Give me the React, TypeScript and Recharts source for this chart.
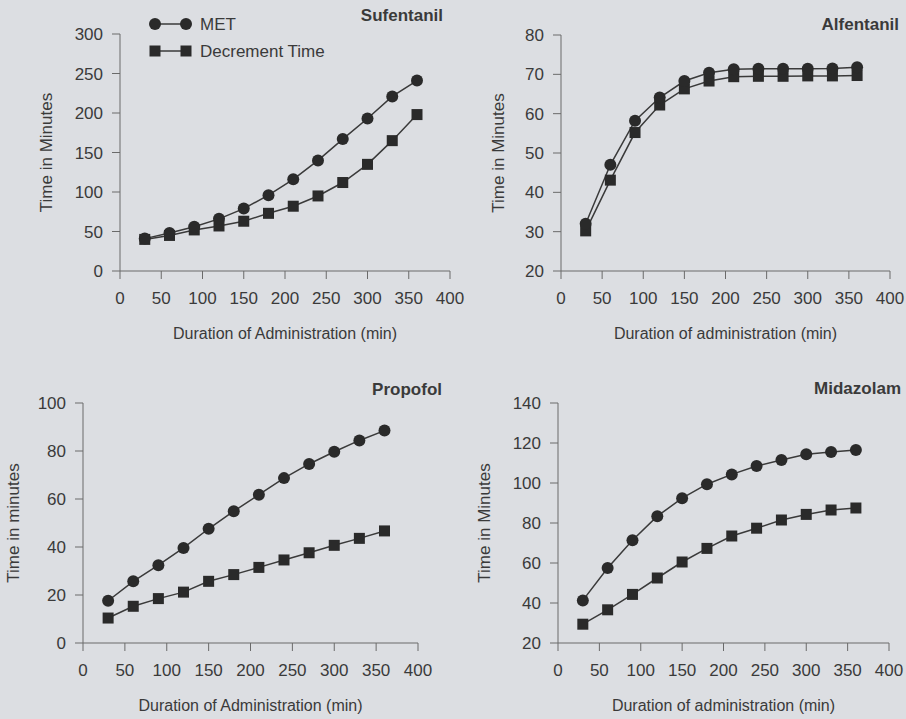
import React from 'react';
import { LineChart, Line, XAxis, YAxis } from 'recharts';

/* --- data --- */

const durations = [30, 60, 90, 120, 150, 180, 210, 240, 270, 300, 330, 360];
const xTicks = [0, 50, 100, 150, 200, 250, 300, 350, 400];

const sufentanilMet = [41, 48, 56, 66, 79, 96, 116, 140, 167, 193, 221, 241];
const sufentanilDecrement = [40, 45, 52, 57, 63, 73, 82, 95, 112, 135, 165, 198];
const sufentanilTicks = [0, 50, 100, 150, 200, 250, 300];

const alfentanilMet = [32, 47, 58.2, 64.1, 68.3, 70.4, 71.3, 71.4, 71.4, 71.4, 71.5, 71.8];
const alfentanilDecrement = [30.2, 43.1, 55.2, 62.2, 66.3, 68.3, 69.4, 69.5, 69.5, 69.6, 69.6, 69.7];
const alfentanilTicks = [20, 30, 40, 50, 60, 70, 80];

const propofolMet = [17.6, 25.7, 32.4, 39.6, 47.6, 54.9, 61.8, 68.7, 74.6, 79.7, 84.4, 88.5];
const propofolDecrement = [10.4, 15.3, 18.5, 21.2, 25.7, 28.5, 31.5, 34.6, 37.6, 40.7, 43.6, 46.7];
const propofolTicks = [0, 20, 40, 60, 80, 100];

const midazolamMet = [41.3, 57.5, 71.4, 83.4, 92.4, 99.4, 104.3, 108.5, 111.5, 114.4, 115.5, 116.5];
const midazolamDecrement = [29.4, 36.6, 44.3, 52.5, 60.5, 67.3, 73.5, 77.4, 81.5, 84.3, 86.5, 87.5];
const midazolamTicks = [20, 40, 60, 80, 100, 120, 140];

const FONT = '"Liberation Sans", Arial, sans-serif';
const INK = '#3a3a3a';
const MARK = '#2a2a2a';
const AXIS = '#6a6a6a';

const toRows = (met: number[], dec: number[]) =>
    durations.map((d, i) => ({ duration: d, met: met[i], decrement: dec[i] }));

const CircleDot = (p: any) =>
    p.cx == null ? null : <circle key={p.key} cx={p.cx} cy={p.cy} r={6} fill={MARK} />;
const SquareDot = (p: any) =>
    p.cx == null ? null : <rect key={p.key} x={p.cx - 5.5} y={p.cy - 5.5} width={11} height={11} fill={MARK} />;

interface PanelProps {
    left: number;
    top: number;
    width: number;
    height: number;
    margin: { top: number; right: number; bottom: number; left: number };
    title: string;
    titleRight: number;
    titleTop: number;
    yLabel: string;
    yLabelGap: number;
    xLabel: string;
    yTicks: number[];
    met: number[];
    decrement: number[];
}

function Panel(p: PanelProps) {
    const data = toRows(p.met, p.decrement);
    const tick = { fill: INK, fontSize: 17, fontFamily: FONT };
    return (
        <div style={{ position: 'absolute', left: p.left, top: p.top, width: p.width, height: p.height }}>
            <div
                style={{
                    position: 'absolute', right: p.titleRight, top: p.titleTop,
                    fontFamily: FONT, fontWeight: 'bold', fontSize: 17, color: INK,
                }}
            >
                {p.title}
            </div>
            <LineChart width={p.width} height={p.height} data={data} margin={p.margin}>
                <XAxis
                    dataKey="duration"
                    type="number"
                    domain={[0, 400]}
                    ticks={xTicks}
                    interval={0}
                    height={30}
                    stroke={AXIS}
                    tickSize={8}
                    tickMargin={13}
                    tick={tick}
                    label={{
                        content: ({ viewBox }: any) => (
                            <text
                                x={viewBox.x + viewBox.width / 2}
                                y={viewBox.y + 68}
                                textAnchor="middle"
                                fontFamily={FONT}
                                fontSize={16}
                                fill={INK}
                            >
                                {p.xLabel}
                            </text>
                        ),
                    }}
                />
                <YAxis
                    type="number"
                    domain={[p.yTicks[0], p.yTicks[p.yTicks.length - 1]]}
                    ticks={p.yTicks}
                    interval={0}
                    width={60}
                    stroke={AXIS}
                    tickSize={8}
                    tickMargin={9}
                    tick={tick}
                    label={{
                        content: ({ viewBox }: any) => {
                            const x = viewBox.x + viewBox.width - p.yLabelGap;
                            const y = viewBox.y + viewBox.height / 2;
                            return (
                                <text
                                    x={x}
                                    y={y}
                                    transform={`rotate(-90, ${x}, ${y})`}
                                    textAnchor="middle"
                                    dominantBaseline="middle"
                                    fontFamily={FONT}
                                    fontSize={17}
                                    fill={INK}
                                >
                                    {p.yLabel}
                                </text>
                            );
                        },
                    }}
                />
                <Line dataKey="decrement" stroke={INK} strokeWidth={1.5} dot={SquareDot} isAnimationActive={false} />
                <Line dataKey="met" stroke={INK} strokeWidth={1.5} dot={CircleDot} isAnimationActive={false} />
            </LineChart>
        </div>
    );
}

function LegendBox() {
    const text = { fontFamily: FONT, fontSize: 17, fill: INK };
    return (
        <svg style={{ position: 'absolute', left: 145, top: 8 }} width={200} height={60}>
            <line x1={10} y1={16} x2={41} y2={16} stroke={INK} strokeWidth={1.5} />
            <circle cx={10} cy={16} r={6} fill={MARK} />
            <circle cx={41} cy={16} r={6} fill={MARK} />
            <text x={55} y={22} {...text}>MET</text>
            <line x1={10} y1={43} x2={41} y2={43} stroke={INK} strokeWidth={1.5} />
            <rect x={4.5} y={37.5} width={11} height={11} fill={MARK} />
            <rect x={35.5} y={37.5} width={11} height={11} fill={MARK} />
            <text x={55} y={49} {...text}>Decrement Time</text>
        </svg>
    );
}

export default function App() {
    return (
        <div style={{ position: 'absolute', left: 0, top: 0, width: 906, height: 719, background: '#dcdee2', overflow: 'hidden' }}>
            <Panel
                left={0} top={0} width={470} height={350}
                margin={{ top: 34, right: 20, bottom: 49, left: 60 }}
                title="Sufentanil" titleRight={27} titleTop={6}
                yLabel="Time in Minutes" yLabelGap={72}
                xLabel="Duration of Administration (min)"
                yTicks={sufentanilTicks}
                met={sufentanilMet} decrement={sufentanilDecrement}
            />
            <Panel
                left={453} top={0} width={453} height={350}
                margin={{ top: 35, right: 16, bottom: 49, left: 48 }}
                title="Alfentanil" titleRight={7} titleTop={15}
                yLabel="Time in Minutes" yLabelGap={61}
                xLabel="Duration of administration (min)"
                yTicks={alfentanilTicks}
                met={alfentanilMet} decrement={alfentanilDecrement}
            />
            <Panel
                left={0} top={360} width={453} height={359}
                margin={{ top: 43, right: 35, bottom: 46, left: 23 }}
                title="Propofol" titleRight={11} titleTop={20}
                yLabel="Time in minutes" yLabelGap={68}
                xLabel="Duration of Administration (min)"
                yTicks={propofolTicks}
                met={propofolMet} decrement={propofolDecrement}
            />
            <Panel
                left={453} top={360} width={453} height={359}
                margin={{ top: 43, right: 17, bottom: 46, left: 45 }}
                title="Midazolam" titleRight={5} titleTop={19}
                yLabel="Time in Minutes" yLabelGap={72}
                xLabel="Duration of administration (min)"
                yTicks={midazolamTicks}
                met={midazolamMet} decrement={midazolamDecrement}
            />
            <LegendBox />
        </div>
    );
}
